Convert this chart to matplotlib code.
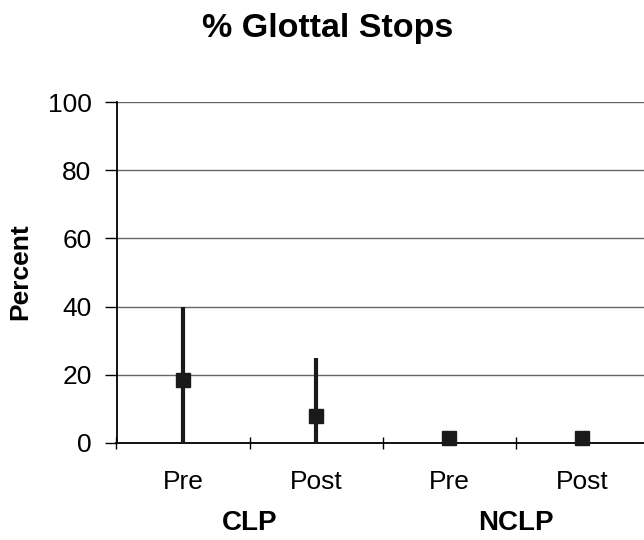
import matplotlib
matplotlib.use("Agg")
import matplotlib.pyplot as plt
import numpy as np

plt.rcParams['font.family'] = ['Liberation Sans', 'DejaVu Sans']

categories = ["Pre", "Post", "Pre", "Post"]
groups = ["CLP", "NCLP"]
means = [18.5, 8, 1.5, 1.5]
upper = [40, 25, 1.5, 1.5]
lower = [0, 0, 1.5, 1.5]
yticks = [0, 20, 40, 60, 80, 100]

fig = plt.figure(figsize=(6.44, 5.4), dpi=100)
ax = fig.add_axes([116.5/644, 1-443/540, 532/644, 341/540])

x = np.arange(len(categories))
m = np.array(means)
yerr = [m - np.array(lower), np.array(upper) - m]
ax.errorbar(x, m, yerr=yerr, fmt='s', color='#1a1a1a', ms=9.5, elinewidth=3.0,
            capsize=0, zorder=3, clip_on=False)

ax.set_xlim(-0.5, 3.5)
ax.set_ylim(0, 100)
ax.set_yticks(yticks)
ax.tick_params(axis='y', labelsize=19, length=9, width=1, direction='out', pad=9)
ax.yaxis.grid(True, color='#666666', linewidth=1)
ax.set_axisbelow(True)

ax.set_xticks(np.arange(-0.5, 3.6, 1))
ax.set_xticklabels([])
ax.tick_params(axis='x', length=8, width=1, direction='inout')
for xi, lab in zip(x, categories):
    ax.text(xi, -0.114, lab, transform=ax.get_xaxis_transform(), ha='center', va='center', fontsize=19)
for gi, g in enumerate(groups):
    ax.text(0.5 + 2*gi, -0.235, g, transform=ax.get_xaxis_transform(), ha='center', va='center',
            fontsize=20, fontweight='bold')

for s in ['top', 'right']:
    ax.spines[s].set_visible(False)
ax.spines['left'].set_linewidth(1.3)
ax.spines['bottom'].set_linewidth(1.3)

fig.text(20/644, 1-272/540, "Percent", rotation=90, ha='center', va='center', fontsize=19, fontweight='bold')
fig.text(328/644, 1-28/540, "% Glottal Stops", ha='center', va='center', fontsize=24.5, fontweight='bold')

fig.savefig("out.png", dpi=100)
